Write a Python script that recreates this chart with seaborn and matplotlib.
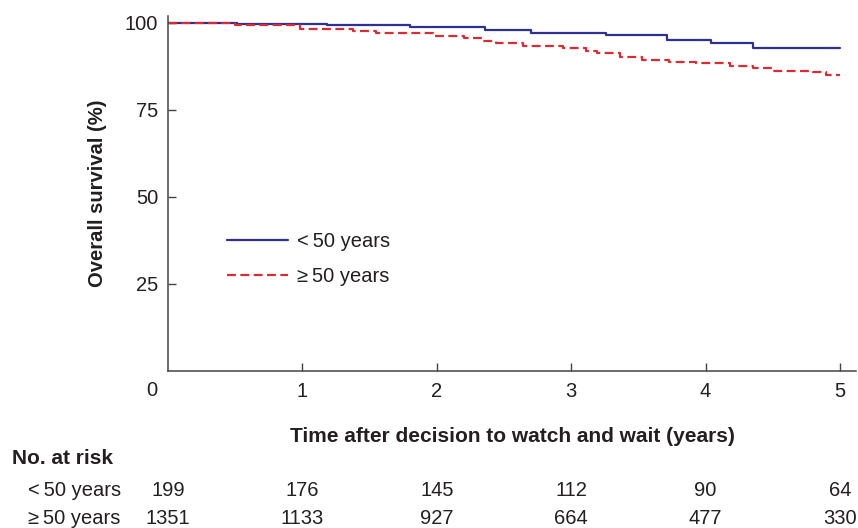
import numpy as np
import pandas as pd
import matplotlib
matplotlib.use("Agg")
import matplotlib.pyplot as plt
import matplotlib.transforms as mtransforms
import seaborn as sns

# Kaplan-Meier step values
time_u50 = [0, 0.51, 1.18, 1.80, 2.36, 2.70, 3.26, 3.71, 4.04, 4.35, 5.0]
surv_u50 = [100, 99.6, 99.3, 98.8, 97.9, 97.1, 96.4, 95.2, 94.2, 92.9, 92.9]

time_o50 = [0, 0.50, 0.98, 1.38, 1.55, 1.97, 2.20, 2.34, 2.44, 2.64, 2.94, 3.11,
            3.19, 3.36, 3.53, 3.73, 3.93, 4.18, 4.35, 4.50, 4.80, 4.90, 5.0]
surv_o50 = [100, 99.4, 98.4, 97.7, 97.0, 96.3, 95.7, 94.8, 94.3, 93.5, 92.7, 92.0,
            91.3, 90.3, 89.4, 88.7, 88.4, 87.7, 87.0, 86.3, 86.0, 85.1, 85.1]

# number at risk table
risk_times = [0, 1, 2, 3, 4, 5]
risk_u50 = [199, 176, 145, 112, 90, 64]
risk_o50 = [1351, 1133, 927, 664, 477, 330]

label_u50 = "<\u200950 years"
label_o50 = "\u2265\u200950 years"

blue = "#2e3192"
red = "#d92b33"
txt = "#231f20"
axcol = "#444444"
fs = 14.5

sns.set_style("white")
plt.rcParams["font.family"] = ["Liberation Sans", "DejaVu Sans"]

fig = plt.figure(figsize=(8.58, 5.28), dpi=100)
ax = fig.add_axes([168 / 858, 157 / 528, (856 - 168) / 858, (371 - 16) / 528])

df_u = pd.DataFrame({"time": time_u50, "surv": surv_u50})
df_o = pd.DataFrame({"time": time_o50, "surv": surv_o50})

sns.lineplot(data=df_u, x="time", y="surv", ax=ax, color=blue, lw=1.6,
             drawstyle="steps-post", estimator=None, label=label_u50)
sns.lineplot(data=df_o, x="time", y="surv", ax=ax, color=red, lw=1.6,
             linestyle=(0, (4, 2)), drawstyle="steps-post", estimator=None,
             label=label_o50)

ax.set_xlim(0, 5.12)
ax.set_ylim(0, 102)
ax.set_xticks([1, 2, 3, 4, 5])
ax.set_yticks([25, 50, 75, 100])
ax.tick_params(bottom=True, left=True, direction="in", length=6, width=1,
               color=axcol, labelsize=fs, labelcolor=txt)
ax.tick_params(axis="x", pad=8)
ax.tick_params(axis="y", pad=7)
for s in ["top", "right"]:
    ax.spines[s].set_visible(False)
for s in ["left", "bottom"]:
    ax.spines[s].set_color(axcol)
    ax.spines[s].set_linewidth(1.1)

# shared origin label
ax.annotate("0", xy=(0, 0), xycoords="data", xytext=(-11.5, -14),
            textcoords="offset points", ha="center", va="center",
            fontsize=fs, color=txt)

ax.set_xlabel("Time after decision to watch and wait (years)", fontsize=15,
              fontweight="bold", color=txt, labelpad=19)
ax.set_ylabel("Overall survival (%)", fontsize=14.6, fontweight="bold",
              color=txt, labelpad=13)

leg = ax.legend(loc="center left", bbox_to_anchor=(0.086, 0.315), frameon=False,
                fontsize=fs, handlelength=3.0, handletextpad=0.45,
                labelspacing=0.82, borderpad=0, borderaxespad=0)
for t in leg.get_texts():
    t.set_color(txt)

# risk table
trans = mtransforms.blended_transform_factory(ax.transData, fig.transFigure)
fig.text(12 / 858, 1 - 459 / 528, "No. at risk", fontsize=15, fontweight="bold",
         color=txt, va="center", ha="left")
for row_y, lab, vals in [(490, label_u50, risk_u50), (519, label_o50, risk_o50)]:
    fig.text(28 / 858, 1 - row_y / 528, lab, fontsize=fs, color=txt,
             va="center", ha="left")
    for t, v in zip(risk_times, vals):
        ax.text(t, 1 - row_y / 528, str(v), transform=trans, fontsize=fs,
                color=txt, ha="center", va="center", clip_on=False)

fig.savefig("out.png", dpi=100)
